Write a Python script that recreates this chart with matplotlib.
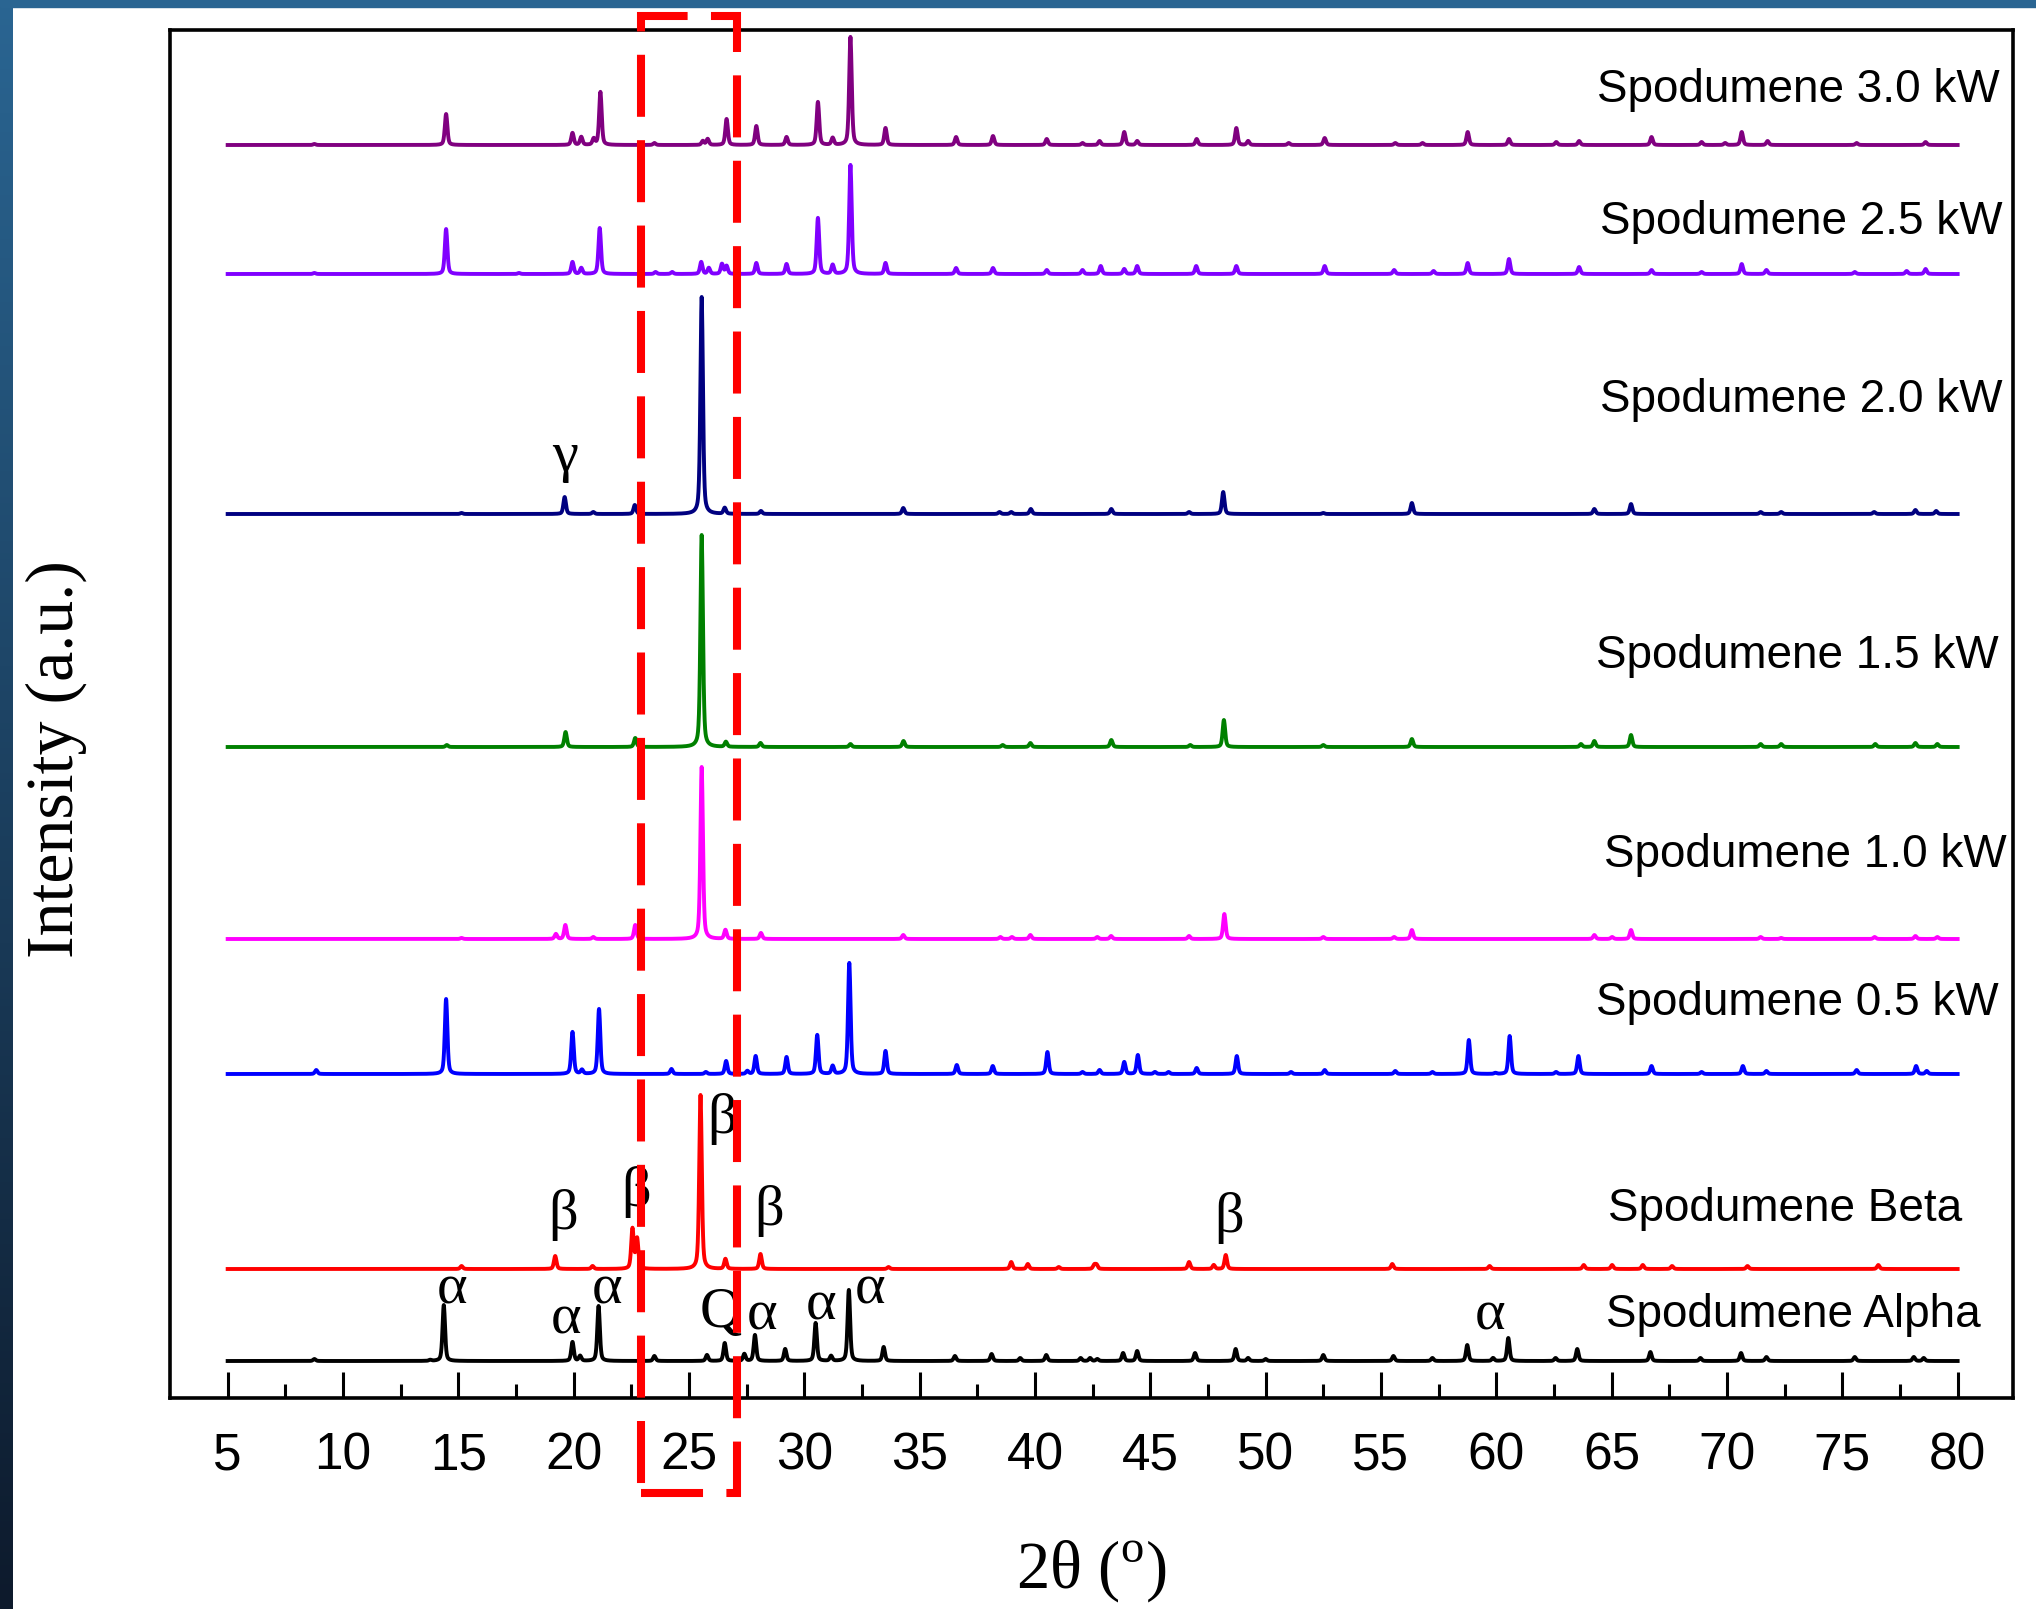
import numpy as np
import matplotlib.pyplot as plt
from matplotlib.patches import Rectangle

plt.rcParams['mathtext.fontset'] = 'custom'
plt.rcParams['mathtext.rm'] = 'Liberation Serif'

# peak lists: (2theta, height), heights in pixel-like units
alpha_pk = [(8.76, 2), (13.78, 1), (14.37, 56), (19.95, 19), (20.28, 5), (21.08, 55), (23.5, 5),
            (25.78, 6), (26.55, 18), (27.40, 7), (27.86, 26), (29.17, 12), (30.49, 38), (31.16, 5),
            (31.93, 71), (33.44, 14), (36.53, 5), (38.12, 7), (39.36, 3), (40.49, 6), (41.98, 3),
            (42.39, 3), (42.7, 2), (43.82, 8), (44.43, 10), (46.94, 8), (48.70, 12), (49.24, 3),
            (50.0, 2), (52.5, 6), (55.54, 5), (57.23, 3), (58.74, 16), (59.86, 3), (60.52, 23),
            (62.57, 3), (63.51, 12), (66.68, 9), (68.85, 3), (70.61, 8), (71.71, 4), (75.54, 4),
            (78.1, 4), (78.53, 3)]
beta_pk = [(15.14, 3), (19.20, 13), (20.82, 3), (22.55, 40), (22.75, 30), (25.50, 174), (26.58, 10),
           (28.10, 15), (33.65, 2), (38.97, 7), (39.69, 5), (41.03, 2), (42.57, 4), (42.67, 4),
           (46.68, 7), (47.75, 4), (48.27, 14), (55.49, 5), (59.71, 3), (63.79, 4), (65.02, 4),
           (66.35, 4), (67.62, 3), (70.89, 3), (76.56, 4)]
kw05_pk = [(8.84, 4), (14.47, 75), (19.95, 42), (20.36, 4), (21.10, 65), (24.24, 5), (25.73, 2),
           (26.61, 13), (27.53, 3), (27.89, 18), (29.23, 17), (30.56, 39), (31.23, 8), (31.95, 111),
           (33.52, 23), (36.61, 9), (38.17, 8), (40.54, 22), (42.06, 2), (42.8, 4), (43.87, 12),
           (44.46, 19), (45.2, 2), (45.79, 2), (47.01, 6), (48.75, 18), (51.1, 2), (52.56, 4),
           (55.62, 3), (57.23, 2), (58.81, 34), (59.96, 1), (60.58, 38), (62.59, 2), (63.56, 18),
           (66.73, 8), (68.9, 2), (70.69, 8), (71.71, 3), (75.62, 4), (78.2, 8), (78.66, 3)]
kw10_pk = [(15.14, 1), (19.23, 5), (19.64, 14), (20.85, 2), (22.67, 14), (25.55, 172), (26.58, 9),
           (28.12, 6), (34.29, 4), (38.5, 2), (39.0, 2), (39.8, 4), (42.7, 2), (43.3, 3), (46.68, 3),
           (48.21, 25), (52.5, 2), (55.57, 2), (56.34, 9), (64.25, 4), (65.02, 2), (65.84, 9),
           (71.46, 2), (72.35, 1), (76.4, 2), (78.17, 3), (79.12, 2)]
kw15_pk = [(14.5, 2), (19.65, 15), (22.67, 9), (25.55, 212), (26.6, 5), (28.1, 4), (32.0, 3),
           (34.3, 6), (38.6, 2), (39.8, 4), (43.31, 7), (46.73, 2), (48.19, 27), (52.5, 2),
           (56.34, 8), (63.67, 3), (64.25, 6), (65.84, 12), (71.46, 3), (72.35, 3), (76.43, 3),
           (78.17, 4), (79.12, 3)]
kw20_pk = [(15.14, 1), (19.61, 17), (20.85, 2), (22.65, 9), (25.55, 217), (26.55, 6), (28.12, 3),
           (34.29, 6), (38.46, 2), (38.97, 2), (39.82, 5), (43.31, 5), (46.68, 2), (48.16, 22),
           (52.5, 1), (56.34, 11), (64.25, 5), (65.84, 10), (71.46, 2), (72.35, 2), (76.38, 2),
           (78.17, 4), (79.07, 3)]
kw25_pk = [(8.76, 1), (14.47, 45), (17.63, 1), (19.95, 12), (20.33, 6), (21.13, 46), (23.55, 2),
           (24.27, 2), (25.53, 12), (25.86, 6), (26.43, 10), (26.63, 8), (27.92, 11), (29.23, 10),
           (30.59, 56), (31.23, 9), (32.0, 109), (33.52, 11), (36.58, 6), (38.18, 6), (40.51, 4),
           (42.06, 4), (42.85, 8), (43.87, 5), (44.43, 8), (46.99, 8), (48.73, 8), (52.56, 8),
           (55.57, 4), (57.28, 3), (58.76, 11), (60.55, 15), (63.59, 7), (66.73, 4), (68.9, 2),
           (70.64, 10), (71.71, 4), (75.54, 2), (77.79, 3), (78.61, 5)]
kw30_pk = [(8.76, 1), (14.47, 31), (19.95, 12), (20.33, 8), (20.87, 6), (21.16, 53), (23.5, 2),
           (25.6, 4), (25.81, 6), (26.63, 26), (27.92, 19), (29.23, 8), (30.59, 43), (31.23, 7),
           (32.0, 108), (33.52, 17), (36.58, 8), (38.18, 9), (40.51, 6), (42.06, 2), (42.8, 4),
           (43.87, 13), (44.43, 4), (47.01, 6), (48.73, 17), (49.24, 4), (51.0, 2), (52.56, 7),
           (55.62, 2), (56.8, 2), (58.76, 13), (60.55, 6), (62.6, 3), (63.59, 4), (66.73, 8),
           (68.9, 3), (69.92, 2), (70.64, 13), (71.76, 4), (75.62, 2), (78.61, 3)]

names = ['Spodumene Alpha', 'Spodumene Beta', 'Spodumene 0.5 kW', 'Spodumene 1.0 kW',
         'Spodumene 1.5 kW', 'Spodumene 2.0 kW', 'Spodumene 2.5 kW', 'Spodumene 3.0 kW']
peaks = [alpha_pk, beta_pk, kw05_pk, kw10_pk, kw15_pk, kw20_pk, kw25_pk, kw30_pk]
colors = ['#000000', '#FF0000', '#0000FF', '#FF00FF', '#008000', '#000080', '#8000FF', '#800080']
offsets = [37, 129, 324, 459, 651, 884, 1124, 1253]
label_x = [81.01, 80.19, 81.79, 82.13, 81.79, 81.96, 81.96, 81.83]
label_y = [83, 189, 395, 543, 742, 998, 1176, 1308]

# phase marks on the patterns
marks = [('α', 14.73, 109), ('α', 19.67, 79), ('α', 21.45, 109), ('Q', 26.39, 85),
         ('α', 28.17, 83), ('α', 30.73, 93), ('α', 32.85, 109), ('α', 59.73, 83),
         ('β', 19.54, 183), ('β', 22.71, 206), ('β', 26.44, 279), ('β', 28.47, 187),
         ('β', 48.41, 180), ('γ', 19.63, 941)]


def pattern(tt, pk, fwhm=0.13, eta=0.45):
    y = np.zeros_like(tt)
    for c, h in pk:
        d = (tt - c) / (fwhm / 2)
        y += h * (eta / (1 + d**2) + (1 - eta) * np.exp(-np.log(2) * d**2))
    return y


W, H = 2036, 1609
fig = plt.figure(figsize=(W / 100, H / 100), dpi=100)

# slide background strips
bg = fig.add_axes([0, 0, 13 / W, 1])
bg.imshow(np.linspace(0, 1, 256).reshape(-1, 1), aspect='auto', origin='upper',
          cmap=plt.matplotlib.colors.LinearSegmentedColormap.from_list('s', ['#2A6592', '#0D1A2C']),
          extent=[0, 1, 0, 1])
bg.axis('off')
fig.patches.append(Rectangle((0, 1 - 7 / H), 1, 7 / H, transform=fig.transFigure,
                             color='#2A6592', zorder=0))

ax = fig.add_axes([170 / W, 1 - 1398 / H, (2013 - 170) / W, (1398 - 30) / H])
tt = np.arange(5, 80.0001, 0.01)
for pk, col, off in zip(peaks, colors, offsets):
    ax.plot(tt, off + pattern(tt, pk), color=col, lw=2.8)

for name, lx, ly in zip(names, label_x, label_y):
    ax.text(lx, ly, name, ha='right', va='center', fontsize=33, family='Liberation Sans')
for s, x, y in marks:
    ax.text(x, y, s, ha='center', va='center', fontsize=42, family='Liberation Serif')

ax.set_xlim(2.5, 82.4)
ax.set_ylim(0, 1368)
ax.set_xticks(np.arange(5, 81, 5))
ax.set_xticks(np.arange(7.5, 80, 5), minor=True)
ax.set_yticks([])
ax.tick_params(axis='x', which='major', direction='in', length=19, width=2.2, pad=24,
               labelsize=37)
ax.tick_params(axis='x', which='minor', direction='in', length=10, width=2.2)
for lab in ax.get_xticklabels():
    lab.set_family('Liberation Sans')
for sp in ax.spines.values():
    sp.set_linewidth(2.6)

ax.set_xlabel('2θ ($^{\\mathrm{o}}$)', fontsize=48, family='Liberation Serif', labelpad=42)
ax.set_ylabel('Intensity (a.u.)', fontsize=49, family='Liberation Serif', va='center')
ax.yaxis.set_label_coords(-0.062, 0.467)

# red dashed box around 25 deg
box = Rectangle((22.9, -95), 4.2, 1477, fill=False, edgecolor='#FF0000', lw=5.8,
                linestyle=(0, (7.7, 2.9)), clip_on=False, zorder=5)
ax.add_patch(box)

fig.savefig('out.png', dpi=100)
